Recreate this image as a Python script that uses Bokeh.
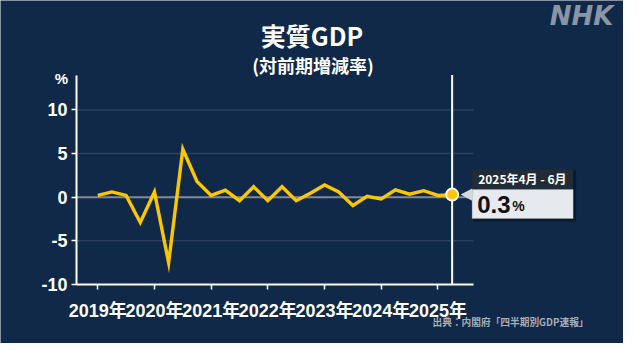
from bokeh.plotting import figure
from bokeh.models import (Range1d, FixedTicker, Label, BoxAnnotation,
                          PolyAnnotation, ColumnDataSource)
from bokeh.embed import file_html
from bokeh.resources import INLINE

# ---- data (real GDP, quarter-on-quarter % change) ----
periods = ["2019Q1", "2019Q2", "2019Q3", "2019Q4",
           "2020Q1", "2020Q2", "2020Q3", "2020Q4",
           "2021Q1", "2021Q2", "2021Q3", "2021Q4",
           "2022Q1", "2022Q2", "2022Q3", "2022Q4",
           "2023Q1", "2023Q2", "2023Q3", "2023Q4",
           "2024Q1", "2024Q2", "2024Q3", "2024Q4",
           "2025Q1", "2025Q2"]
values = [0.2, 0.6, 0.2, -2.9,
          0.6, -7.5, 5.5, 1.8,
          0.2, 0.8, -0.4, 1.2,
          -0.4, 1.2, -0.4, 0.45,
          1.4, 0.6, -0.95, 0.1,
          -0.2, 0.85, 0.35, 0.75,
          0.2, 0.3]
year_labels = ["2019年", "2020年", "2021年", "2022年", "2023年", "2024年", "2025年"]
y_ticks = [-10, -5, 0, 5, 10]
y_tick_labels = ["-10", "-5", "0", "5", "10"]
title = "実質GDP"
subtitle = "(対前期増減率)"
unit = "%"
latest_label = "2025年4月 - 6月"
source_text = "出典：内閣府「四半期別GDP速報」"
brand = "NHK"

BG = "#102948"
YELLOW = "#fcc700"
FONT = "'Liberation Sans', 'Noto Sans CJK JP'"
CJK = "Noto Sans CJK JP"

x = list(range(len(values)))
src = ColumnDataSource(dict(x=x, y=values))

W, H = 623, 343
# axis extents (data) and where they sit on the canvas (px)
AX0, AX1 = -1.5, 26.5
AY0, AY1 = -10, 14
ax0_px, ax1_px = 76.0, 472.9     # canvas x of AX0, AX1
ay0_px, ay1_px = 284.0, 74.5     # canvas y (from top) of AY0, AY1
kx = (ax1_px - ax0_px) / (AX1 - AX0)
ky = (ay0_px - ay1_px) / (AY1 - AY0)
X0, X1 = AX0 - ax0_px / kx, AX0 + (W - ax0_px) / kx
Y0, Y1 = AY0 - (H - ay0_px) / ky, AY0 + ay0_px / ky


def px_x(cx):  # canvas px -> data x
    return AX0 + (cx - ax0_px) / kx


def px_y(cy):  # canvas px (from top) -> data y
    return AY0 + (ay0_px - cy) / ky


def dx(px):
    return px / kx


def dy(px):
    return px / ky


p = figure(width=W, height=H, x_range=Range1d(X0, X1), y_range=Range1d(Y0, Y1),
           output_backend="svg", toolbar_location=None, min_border=0,
           background_fill_color=BG, border_fill_color=BG, outline_line_color=None)
p.xgrid.visible = False
p.ygrid.visible = False

# axes, pinned at the data-space corner
for ax in (p.xaxis[0], p.yaxis[0]):
    ax.axis_line_color = "white"
    ax.axis_line_width = 2
    ax.major_tick_line_color = "white"
    ax.major_tick_line_width = 1.5
    ax.major_tick_out = 5
    ax.major_tick_in = 0
    ax.minor_tick_line_color = None
    ax.major_label_text_color = "white"
    ax.major_label_text_font = FONT
    ax.major_label_text_font_style = "bold"
    ax.major_label_text_font_size = "18px"

p.xaxis.fixed_location = AY0
p.yaxis.fixed_location = AX0
p.xaxis.bounds = (AX0, AX1)
p.yaxis.bounds = (AY0, AY1)
p.xaxis.ticker = FixedTicker(ticks=[4 * i for i in range(len(year_labels))])
p.xaxis.major_label_overrides = {4 * i: s for i, s in enumerate(year_labels)}
p.xaxis.major_label_standoff = 11
p.yaxis.ticker = FixedTicker(ticks=y_ticks)
p.yaxis.major_label_overrides = dict(zip(y_ticks, y_tick_labels))
p.yaxis.major_label_standoff = 4

# horizontal grid lines limited to the axis extent
grid_y = [t for t in y_ticks if t not in (0, AY0)]
p.segment(x0=[AX0] * len(grid_y), x1=[AX1] * len(grid_y), y0=grid_y, y1=grid_y,
          line_color="#2a405e", line_width=1.5)
p.segment(x0=[AX0], x1=[AX1], y0=[0], y1=[0], line_color="#7f8b9d", line_width=2)

# latest vertical line
last_x, last_v = x[-1], values[-1]
p.segment(x0=[last_x], x1=[last_x], y0=[AY0], y1=[AY1], line_color="white", line_width=2)

# series
p.line("x", "y", source=src, line_color=YELLOW, line_width=3.4, line_join="miter")
p.scatter([last_x], [last_v], size=12, fill_color=YELLOW, line_color="white", line_width=2)

# tooltip box anchored to the last point
bx0, bx1 = last_x + dx(20), last_x + dx(121)
btop, bsplit, bbot = last_v + dy(25), last_v + dy(5), last_v - dy(24)
for box in (
    BoxAnnotation(left=bx0 + dx(1), right=bx1 + dx(3), top=btop - dy(1), bottom=bbot - dy(3),
                  fill_color="black", fill_alpha=0.35, line_color=None),
    BoxAnnotation(left=bx0, right=bx1, top=btop, bottom=bsplit,
                  fill_color="#222c37", fill_alpha=1, line_color=None),
    BoxAnnotation(left=bx0, right=bx1, top=bsplit, bottom=bbot,
                  fill_color="#e6e9ed", fill_alpha=1, line_color="#b4bac3", line_width=1),
):
    box.level = "annotation"
    p.add_layout(box)
p.add_layout(PolyAnnotation(xs=[last_x + dx(8.5), bx0, bx0],
                            ys=[last_v, last_v + dy(6.2), last_v - dy(6.2)],
                            fill_color="#d5d9df", fill_alpha=1, line_color=None,
                            level="annotation"))


def add_label(**kw):
    lab = Label(**kw)
    lab.level = "overlay"
    p.add_layout(lab)


add_label(x=bx0 + dx(6), y=(btop + bsplit) / 2 + dy(1), text=latest_label,
          text_font=CJK, text_font_style="bold", text_font_size="12px",
          text_color="white", text_baseline="middle", text_align="left")
val_txt = f"{last_v:.1f}"
add_label(x=bx0 + dx(5), y=last_v - dy(9.5), text=val_txt,
          text_font="Liberation Sans", text_font_style="bold", text_font_size="24px",
          text_color="#111111", text_baseline="middle", text_align="left")
add_label(x=bx0 + dx(40), y=last_v - dy(11.5), text=unit,
          text_font="Liberation Sans", text_font_style="bold", text_font_size="14px",
          text_color="#111111", text_baseline="middle", text_align="left")

# titles, unit, brand and source
add_label(x=px_x(311.5), y=px_y(34.5), text=title, text_font=CJK, text_font_style="bold",
          text_font_size="25px", text_color="white", text_align="center",
          text_baseline="middle")
add_label(x=px_x(312.5), y=px_y(64), text=subtitle, text_font=CJK, text_font_style="bold",
          text_font_size="18px", text_color="white", text_align="center",
          text_baseline="middle")
add_label(x=px_x(67.5), y=px_y(78), text=unit, text_font=FONT, text_font_style="bold",
          text_font_size="15px", text_color="white", text_align="right",
          text_baseline="middle")
add_label(x=px_x(581), y=px_y(15), text=brand, text_font="DejaVu Sans",
          text_font_style="bold italic", text_font_size="26px", text_color="#8a95a5",
          text_align="center", text_baseline="middle")
add_label(x=px_x(588), y=px_y(321), text=source_text, text_font=CJK, text_font_style="bold",
          text_font_size="9.7px", text_color="#a7afba", text_align="right",
          text_baseline="middle")

html = file_html(p, INLINE)
html = html.replace("<body>", f'<body style="background-color:{BG};">', 1)
open("out.html", "w").write(html)
